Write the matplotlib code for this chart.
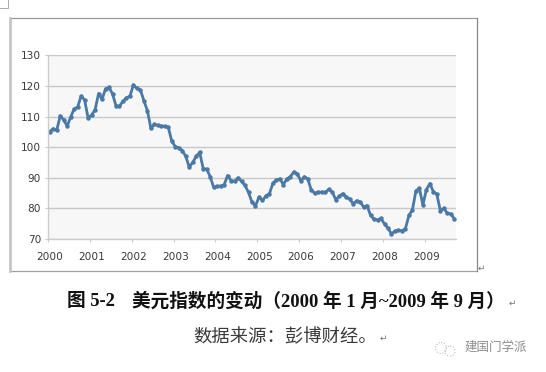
import matplotlib
matplotlib.use('Agg')
import matplotlib.pyplot as plt
from matplotlib.patches import Circle
from matplotlib.transforms import ScaledTranslation

# monthly dollar index, 2000-01 to 2009-09
dollar_index = [
    105.1, 106.0, 105.5, 110.2, 108.9, 106.9, 109.8, 112.5, 113.1, 116.7, 115.4, 109.5,
    110.5, 112.2, 117.5, 115.6, 119.1, 119.5, 117.4, 113.5, 113.4, 115.0, 116.1, 116.7,
    120.3, 119.2, 118.7, 115.2, 111.9, 106.2, 107.4, 107.1, 106.9, 106.8, 106.5, 101.9,
    100.2, 99.8, 98.9, 97.0, 93.5, 95.0, 97.0, 98.3, 93.0, 92.8, 90.4, 86.9,
    87.2, 87.3, 87.7, 90.7, 89.1, 88.8, 90.0, 88.8, 87.5, 85.2, 82.0, 80.8,
    83.7, 82.6, 84.1, 84.8, 88.2, 89.3, 89.6, 87.8, 89.6, 90.4, 91.9, 91.3,
    89.0, 90.3, 89.6, 86.0, 84.9, 85.3, 85.3, 85.2, 86.2, 85.4, 82.9, 83.9,
    84.8, 83.7, 83.1, 81.5, 82.5, 82.1, 80.5, 80.9, 77.7, 76.5, 76.2, 76.7,
    74.9, 73.5, 71.7, 72.6, 72.9, 72.6, 73.4, 77.7, 79.5, 85.7, 86.6, 81.1,
    86.1, 88.1, 85.5, 84.6, 79.3, 80.0, 78.4, 78.2, 76.6,
]
year_labels = ['2000', '2001', '2002', '2003', '2004', '2005', '2006', '2007', '2008', '2009']
y_ticks = [70, 80, 90, 100, 110, 120, 130]

W, H = 546, 372
fam = ['Liberation Serif', 'Noto Sans CJK SC', 'DejaVu Sans']

fig = plt.figure(figsize=(W / 100, H / 100), dpi=100, facecolor='white')

# page-level layer in pixel coordinates
page = fig.add_axes([0, 0, 1, 1])
page.set_xlim(0, W)
page.set_ylim(H, 0)
page.axis('off')
page.plot([10, 476.5], [17.5, 17.5], color='#999999', linewidth=0.9)
page.plot([10, 476.5], [271, 271], color='#a0a0a0', linewidth=0.9)
page.plot([476.5, 476.5], [17.5, 271], color='#888888', linewidth=0.9)
page.plot([10, 10], [17.5, 271], color='#c4c4c4', linewidth=1.9)
# page corner mark
page.plot([0, 8, 8], [8, 8, 0], color='#aaaaaa', linewidth=0.7)

ax = fig.add_axes([48 / W, 1 - 239 / H, 408 / W, 183.7 / H])
ax.set_facecolor('#f7f7f8')
ax.plot([i + 0.5 for i in range(len(dollar_index))], dollar_index, color='#4a79a6',
        linewidth=2.0, marker='o', markersize=2.2, solid_joinstyle='round')
ax.set_xlim(0, len(dollar_index))
ax.set_ylim(70, 130)
ax.set_yticks(y_ticks)
ax.set_xticks(range(0, 120, 12))
ax.set_xticklabels(year_labels)
ax.yaxis.grid(True, color='#c8c8c8', linewidth=1.0)
ax.set_axisbelow(True)
for side in ['top', 'right']:
    ax.spines[side].set_visible(False)
for side in ['left', 'bottom']:
    ax.spines[side].set_color('#cccccc')
    ax.spines[side].set_linewidth(1.0)
ax.tick_params(length=2, color='#cccccc', labelsize=7.6, labelcolor='#3a3a3a', pad=7)
ax.tick_params(axis='y', pad=3)
shift = ScaledTranslation(2 / 100, 0, fig.dpi_scale_trans)
for lab in ax.get_xticklabels():
    lab.set_transform(lab.get_transform() + shift)

page.text(67, 301, '图 5-2', family=fam, fontsize=13.4, fontweight='bold', va='center', color='#111111')
page.text(132, 301, '美元指数的变动（2000 年 1 月~2009 年 9 月）', family=fam, fontsize=13.4,
          fontweight='bold', va='center', color='#111111')
page.text(193, 337, '数据来源：彭博财经。', family=fam, fontsize=13.2, va='center', color='#3a3a3a')

# return marks
for x, y in [(481, 268), (512, 303), (383, 338)]:
    page.text(x, y, '↵', family='DejaVu Sans', fontsize=6.5, color='#777777', ha='center', va='center')

# watermark
page.add_patch(Circle((441, 348), 5.5, fill=False, edgecolor='#bdbdbd', linewidth=0.8, linestyle=':'))
page.add_patch(Circle((450, 351), 5, fill=False, edgecolor='#bdbdbd', linewidth=0.8, linestyle=':'))
page.text(465, 348, '建国门学派', family=fam, fontsize=9, color='#8c8c8c', va='center')

fig.savefig('out.png', dpi=100, facecolor='white')
